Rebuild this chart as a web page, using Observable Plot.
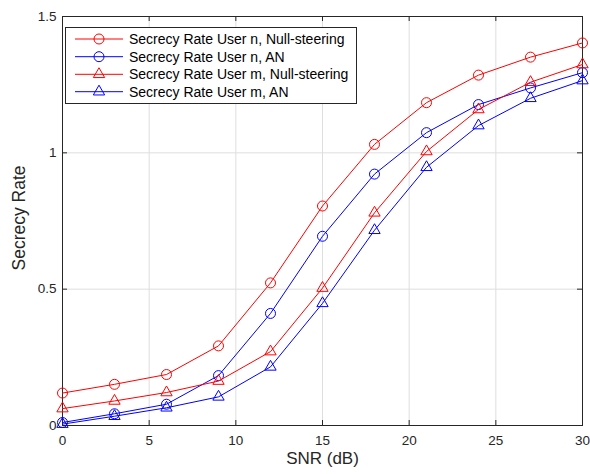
<!DOCTYPE html>
<html>
<head>
<meta charset="utf-8">
<script src="https://cdn.jsdelivr.net/npm/d3@7"></script>
<script src="https://cdn.jsdelivr.net/npm/@observablehq/plot@0.6"></script>
<style>
  html, body { margin: 0; padding: 0; background: #fff; }
  #wrap { position: relative; width: 590px; height: 474px; font-family: "Liberation Sans", Arial, sans-serif; }
  #legend { position: absolute; left: 65px; top: 27px; width: 292px; height: 77px; background: #fff; border: 1px solid #262626; box-sizing: border-box; }
</style>
</head>
<body>
<div id="wrap"><div id="legend"></div></div>
<script>
const snr = [0, 3, 6, 9, 12, 15, 18, 21, 24, 27, 30];
const userN_Null = [0.119, 0.151, 0.187, 0.292, 0.523, 0.805, 1.031, 1.184, 1.285, 1.351, 1.403];
const userN_AN   = [0.011, 0.043, 0.078, 0.183, 0.411, 0.694, 0.922, 1.074, 1.177, 1.238, 1.294];
const userM_Null = [0.062, 0.090, 0.121, 0.163, 0.271, 0.504, 0.780, 1.005, 1.159, 1.259, 1.324];
const userM_AN   = [0.005, 0.034, 0.065, 0.105, 0.215, 0.448, 0.716, 0.947, 1.100, 1.200, 1.265];
const seriesNames = [
  "Secrecy Rate User n, Null-steering",
  "Secrecy Rate User n, AN",
  "Secrecy Rate User m, Null-steering",
  "Secrecy Rate User m, AN"
];
const xTicks = [0, 5, 10, 15, 20, 25, 30];
const yTicks = [0, 0.5, 1, 1.5];
const yTickLabels = ["0", "0.5", "1", "1.5"];

const series = [
  {name: seriesNames[0], values: userN_Null, color: "#ff0000", symbol: "circle"},
  {name: seriesNames[1], values: userN_AN, color: "#0000ff", symbol: "circle"},
  {name: seriesNames[2], values: userM_Null, color: "#ff0000", symbol: "triangle"},
  {name: seriesNames[3], values: userM_AN, color: "#0000ff", symbol: "triangle"}
];

const W = 590, H = 474, mL = 62, mR = 8, mT = 16, mB = 49;
const plotW = W - mL - mR, plotH = H - mT - mB;
const tickLen = 5;

const marks = [
  Plot.gridX(xTicks, {stroke: "#dedede", strokeOpacity: 1}),
  Plot.gridY(yTicks, {stroke: "#dedede", strokeOpacity: 1}),
  Plot.axisX(xTicks, {tickSize: 0, tickPadding: 10, fontSize: 13.5, color: "#262626", label: null}),
  Plot.axisY(yTicks, {tickSize: 0, tickPadding: 6, fontSize: 13.5, color: "#262626", label: null,
    tickFormat: d => yTickLabels[yTicks.indexOf(d)]}),
  // inward ticks on all four sides
  Plot.tickX(xTicks, {x: d => d, stroke: "#262626", insetTop: plotH - tickLen}),
  Plot.tickX(xTicks, {x: d => d, stroke: "#262626", insetBottom: plotH - tickLen}),
  Plot.tickY(yTicks, {y: d => d, stroke: "#262626", insetRight: plotW - tickLen}),
  Plot.tickY(yTicks, {y: d => d, stroke: "#262626", insetLeft: plotW - tickLen}),
  Plot.frame({stroke: "#262626"})
];
for (const s of series) {
  const data = snr.map((x, i) => ({x, y: s.values[i]}));
  marks.push(Plot.line(data, {x: "x", y: "y", stroke: s.color, strokeWidth: 1}));
  marks.push(Plot.dot(data, {x: "x", y: "y", stroke: s.color, fill: "none", strokeWidth: 1,
    symbol: s.symbol, r: s.symbol === "circle" ? 5 : 4.2}));
}
marks.push(Plot.text(["SNR (dB)"], {frameAnchor: "bottom", dy: 38.5, text: d => d, fontSize: 17, fill: "#262626"}));
marks.push(Plot.text(["Secrecy Rate"], {frameAnchor: "left", textAnchor: "middle", dx: -43, dy: -3, rotate: -90, text: d => d, fontSize: 17.5, fill: "#262626"}));

const chart = Plot.plot({
  width: W, height: H,
  marginLeft: mL, marginRight: mR, marginTop: mT, marginBottom: mB,
  x: {domain: [0, 30]},
  y: {domain: [0, 1.5]},
  style: {fontFamily: "'Liberation Sans', Arial, sans-serif", background: "#fff"},
  marks
});
document.getElementById("wrap").insertBefore(chart, document.getElementById("legend"));

// legend
const lg = d3.select("#legend").append("svg").attr("width", 290).attr("height", 75);
const rowY = [11, 28.7, 46.3, 63.7];
series.forEach((s, i) => {
  const g = lg.append("g").attr("transform", `translate(0,${rowY[i]})`);
  g.append("line").attr("x1", 9).attr("x2", 57).attr("y1", 0).attr("y2", 0).attr("stroke", s.color);
  const sym = s.symbol === "circle" ? d3.symbolCircle : d3.symbolTriangle;
  const size = s.symbol === "circle" ? Math.PI * 25 : Math.PI * 4.2 * 4.2;
  g.append("path").attr("d", d3.symbol(sym, size)()).attr("transform", "translate(33,0)")
    .attr("fill", "none").attr("stroke", s.color);
  g.append("text").attr("x", 63).attr("y", 0).attr("dy", "0.35em").attr("font-size", 14)
    .attr("fill", "#000").attr("font-family", "'Liberation Sans', Arial, sans-serif").text(s.name);
});
</script>
</body>
</html>
